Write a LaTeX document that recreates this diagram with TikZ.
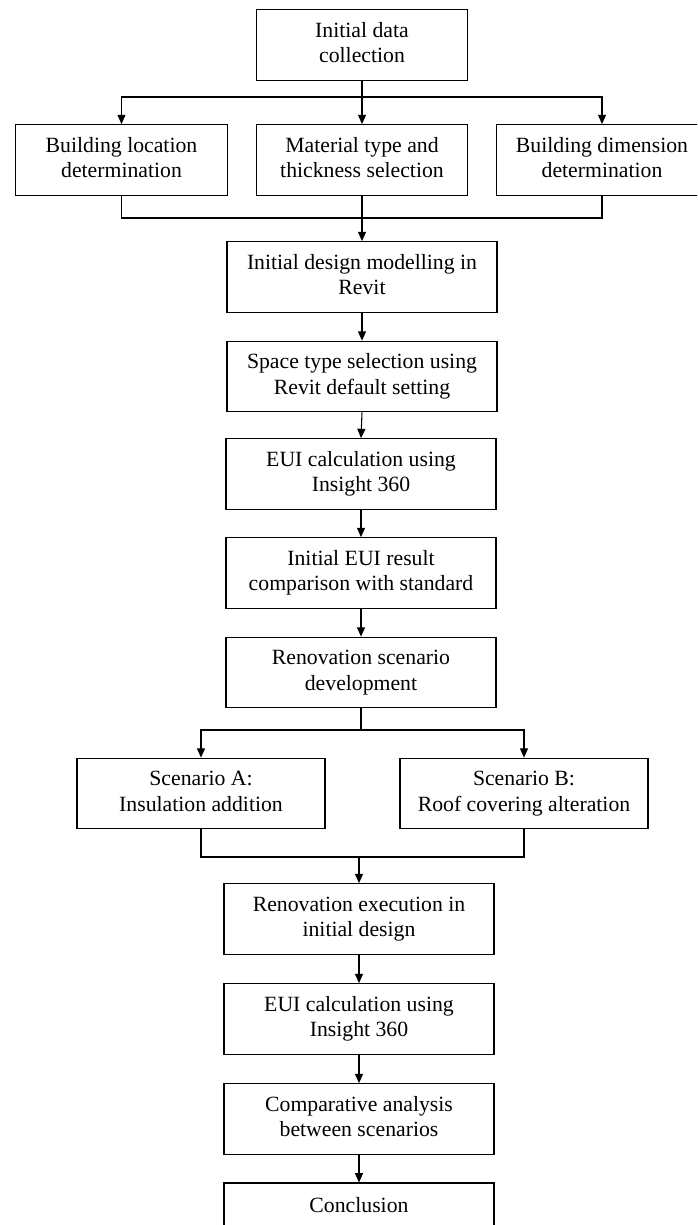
\documentclass[tikz,border=0pt]{standalone}
\usepackage{fontspec}
\setmainfont{Liberation Serif}
\usetikzlibrary{arrows.meta}
\begin{document}
\begin{tikzpicture}[x=0.75pt,y=-0.75pt,
  box/.style={draw=black, line width=0.8pt, align=center, inner sep=0pt,
    font=\fontsize{16.3}{18.8}\selectfont, minimum height=53pt},
  wsmall/.style={minimum width=158.5pt},
  wmid/.style={minimum width=202.5pt},
  wscen/.style={minimum width=186pt},
  link/.style={draw=black, line width=0.8pt},
  arr/.style={link, -{Triangle[length=7pt,width=6pt]}}]
\path[use as bounding box] (0,0) rectangle (697,1225);
\clip (0,0) rectangle (697,1225);

\node[box,wsmall] (b1) at (362,45) {\strut Initial data\\\strut collection};
\node[box,wsmall] (b2a) at (121.5,160) {\strut Building location\\\strut determination};
\node[box,wsmall] (b2b) at (362,160) {\strut Material type and\\\strut thickness selection};
\node[box,wsmall] (b2c) at (602,160) {\strut Building dimension\\\strut determination};
\node[box,wmid] (b3) at (362,277) {\strut Initial design modelling in\\\strut Revit};
\node[box,wmid] (b4) at (362,376.5) {\strut Space type selection using\\\strut Revit default setting};
\node[box,wmid] (b5) at (361,474) {\strut EUI calculation using\\\strut Insight 360};
\node[box,wmid] (b6) at (361,573) {\strut Initial EUI result\\\strut comparison with standard};
\node[box,wmid] (b7) at (361,672.5) {\strut Renovation scenario\\\strut development};
\node[box,wscen] (sa) at (201,793.5) {\strut Scenario A:\\\strut Insulation addition};
\node[box,wscen] (sb) at (524,793.5) {\strut Scenario B:\\\strut Roof covering alteration};
\node[box,wmid] (b9) at (359,919) {\strut Renovation execution in\\\strut initial design};
\node[box,wmid] (b10) at (359,1019) {\strut EUI calculation using\\\strut Insight 360};
\node[box,wmid] (b11) at (359,1119) {\strut Comparative analysis\\\strut between scenarios};
\node[box,wmid,minimum height=36pt] (b12) at (359,1207) {\strut Conclusion};

\coordinate (j1) at (362,97);
\coordinate (j2) at (362,218);
\coordinate (j3) at (361,730);
\coordinate (j4) at (359,857);

\draw[arr] (b1) -- (b2b);
\draw[arr] (j1) -| (b2a.north);
\draw[arr] (j1) -| (b2c.north);
\draw[link] (b2a.south) |- (j2);
\draw[link] (b2c.south) |- (j2);
\draw[arr] (b2b) -- (b3);
\draw[arr] (b3) -- (b4);
\draw[arr] (b4.south) -- (b5.north);
\draw[arr] (b5) -- (b6);
\draw[arr] (b6) -- (b7);
\draw[link] (b7.south) -- (j3);
\draw[arr] (j3) -| (sa.north);
\draw[arr] (j3) -| (sb.north);
\draw[link] (sa.south) |- (j4);
\draw[link] (sb.south) |- (j4);
\draw[arr] (j4) -- (b9.north);
\draw[arr] (b9) -- (b10);
\draw[arr] (b10) -- (b11);
\draw[arr] (b11) -- (b12);
\end{tikzpicture}
\end{document}
